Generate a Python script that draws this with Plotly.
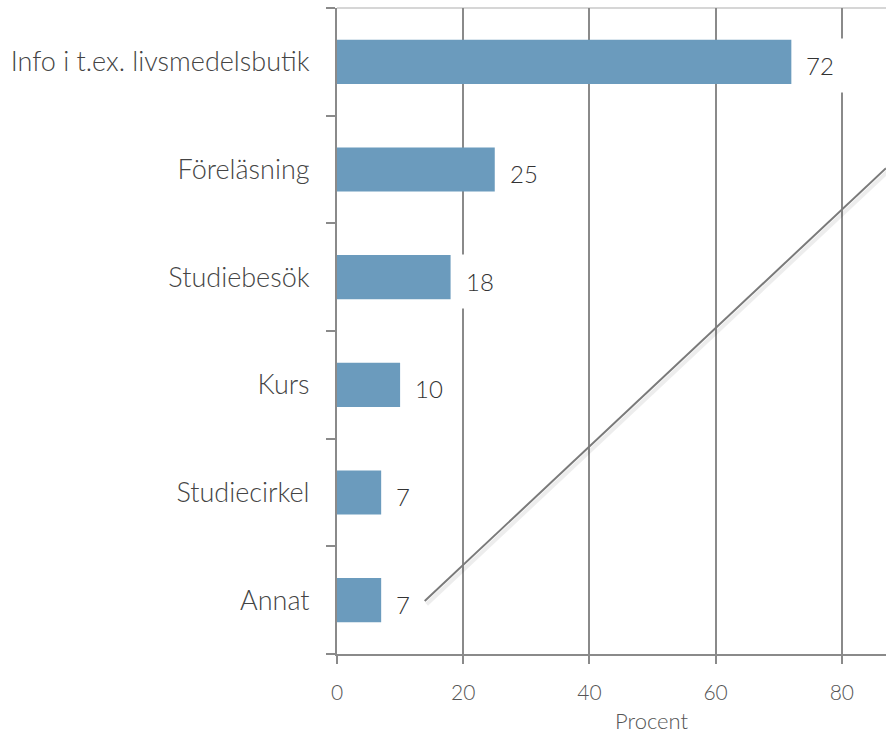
import plotly.graph_objects as go

categories = ["Info i t.ex. livsmedelsbutik", "Föreläsning", "Studiebesök", "Kurs", "Studiecirkel", "Annat"]
values = [72, 25, 18, 10, 7, 7]
x_ticks = [0, 20, 40, 60, 80]
x_title = "Procent"

FONT = "Lato Light, Lato, sans-serif"
fig = go.Figure()
fig.add_trace(go.Bar(
    x=values, y=categories, orientation="h",
    marker=dict(color="#6b9bbd", line=dict(width=0)),
    width=0.41, hoverinfo="skip",
))

for c, v in zip(categories, values):
    fig.add_annotation(
        x=v, y=c, xref="x", yref="y", text=str(v), showarrow=False,
        xanchor="left", yanchor="middle", xshift=2, yshift=-4,
        bgcolor="white", borderpad=12,
        font=dict(family=FONT, size=24, color="#333", weight=300),
    )

# axis title (the original plot area extends beyond the visible window, so it sits right of centre)
fig.add_annotation(
    x=0.574, y=0, xref="paper", yref="paper", text=x_title, showarrow=False,
    xanchor="center", yanchor="middle", yshift=-66,
    font=dict(family=FONT, size=22, color="#555", weight=300),
)

# decorative diagonal line (with faint shadow)
fig.add_shape(type="line", xref="x", yref="paper", x0=14.2, y0=0.077, x1=87.3, y1=0.747,
              line=dict(color="rgba(0,0,0,0.07)", width=4), layer="above")
fig.add_shape(type="line", xref="x", yref="paper", x0=13.9, y0=0.082, x1=87.0, y1=0.752,
              line=dict(color="#7a7a7a", width=2), layer="above")
# top light border
fig.add_shape(type="line", xref="paper", yref="paper", x0=0, y0=1, x1=1, y1=1,
              line=dict(color="#c8c8c8", width=1.5), layer="below")

fig.update_layout(
    width=886, height=737,
    margin=dict(l=337, r=0, t=8, b=83),
    paper_bgcolor="white", plot_bgcolor="white",
    showlegend=False,
    xaxis=dict(
        range=[0, 87], tickvals=x_ticks, ticktext=[str(t) for t in x_ticks],
        showgrid=True, gridcolor="#8a8a8a", gridwidth=2,
        zeroline=False, showline=True, linecolor="#8a8a8a", linewidth=2,
        ticks="outside", ticklen=8, tickwidth=2, tickcolor="#8a8a8a",
        tickfont=dict(family=FONT, size=21, color="#555", weight=300),
        ticklabelstandoff=11,
        fixedrange=True,
    ),
    yaxis=dict(
        categoryorder="array", categoryarray=categories[::-1],
        showgrid=False, zeroline=False, showline=True, linecolor="#8a8a8a", linewidth=2,
        ticks="outside", ticklen=9, tickwidth=2, tickcolor="#8a8a8a", tickson="boundaries",
        tickfont=dict(family=FONT, size=27, color="#444", weight=300),
        ticklabelstandoff=20,
        fixedrange=True,
    ),
)

fig.write_html("out.html", config={"displayModeBar": False},
               post_script="document.body.style.margin='0';document.body.style.overflow='hidden';")
